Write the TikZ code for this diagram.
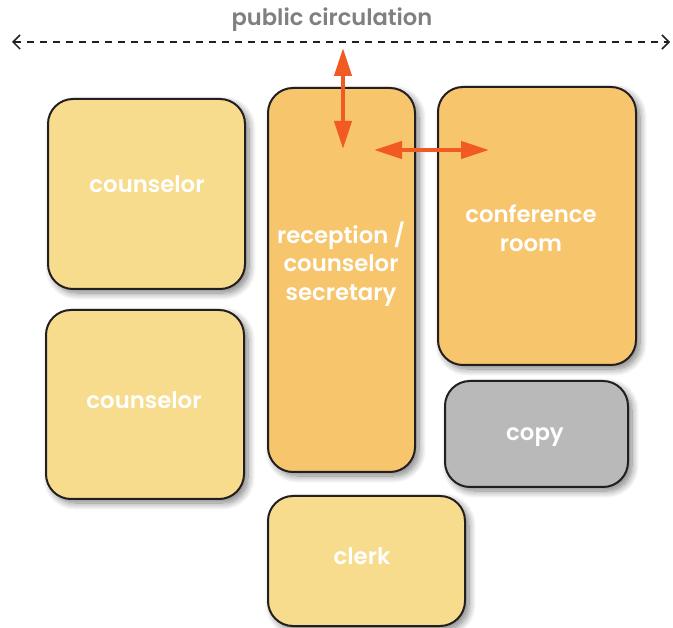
\documentclass[tikz,border=0pt]{standalone}
\usepackage{fontspec}
\setmainfont{Poppins}[BoldFont={Poppins SemiBold}]
\usetikzlibrary{arrows.meta,shadows.blur}
\definecolor{lightyel}{HTML}{F8DC8E}
\definecolor{darkyel}{HTML}{F7C56B}
\definecolor{copygray}{HTML}{B9B9B9}
\definecolor{edge}{HTML}{231F20}
\definecolor{arroworange}{HTML}{F15A22}
\definecolor{titlegray}{HTML}{808080}
\tikzset{
  room/.style={draw=edge, line width=2pt, rounded corners=25pt, inner sep=0pt, outer sep=0pt,
    blur shadow={shadow xshift=4pt, shadow yshift=-4pt, shadow blur steps=10, shadow blur radius=7pt, shadow opacity=50}},
  roomtext/.style={text=white, font=\bfseries\fontsize{22.8}{28.5}\selectfont, align=center, inner sep=0pt},
  flow/.style={draw=arroworange, line width=4pt, {Triangle[length=28pt,width=17pt]}-{Triangle[length=28pt,width=17pt]}},
}
\begin{document}
\begin{tikzpicture}[x=1pt,y=-1pt]
\useasboundingbox (0,0) rectangle (673,628);
% public circulation
\node[text=titlegray, font=\bfseries\fontsize{22.6}{24}\selectfont, inner sep=0pt] (pc) at (332,20) {public circulation};
\coordinate (pl) at (12,42);
\coordinate (pr) at (670,42);
\draw[edge, line width=1.5pt, dash pattern=on 7pt off 6pt, {Straight Barb[length=7pt,width=14pt]}-{Straight Barb[length=7pt,width=14pt]}] (pl) -- (pr);
% rooms
\node[room, fill=lightyel, minimum width=197pt, minimum height=190pt] (c1) at (146.5,194) {};
\node[room, fill=lightyel, minimum width=198pt, minimum height=189pt] (c2) at (145,404.5) {};
\node[room, fill=darkyel, minimum width=147pt, minimum height=384pt] (rec) at (341.5,280) {};
\node[room, fill=darkyel, minimum width=198pt, minimum height=278pt] (conf) at (537,226) {};
\node[room, fill=copygray, minimum width=183pt, minimum height=106pt] (copy) at (536.5,434) {};
\node[room, fill=lightyel, minimum width=197pt, minimum height=130pt] (clerk) at (366.5,561) {};
% labels
\node[roomtext] (t1) at (147,184) {counselor};
\node[roomtext] (t2) at (144,400) {counselor};
\node[roomtext] (t3) at (341,264) {reception /\\counselor\\secretary};
\node[roomtext] (t4) at (531,228) {conference\\room};
\node[roomtext] (t5) at (535,437) {copy};
\node[roomtext] (t6) at (362,556) {clerk};
% flows
\coordinate (va) at (343,48);
\coordinate (vb) at (343,149);
\coordinate (ha) at (374,150);
\coordinate (hb) at (489,150);
\draw[flow] (va) -- (vb);
\draw[flow] (ha) -- (hb);
\end{tikzpicture}
\end{document}
